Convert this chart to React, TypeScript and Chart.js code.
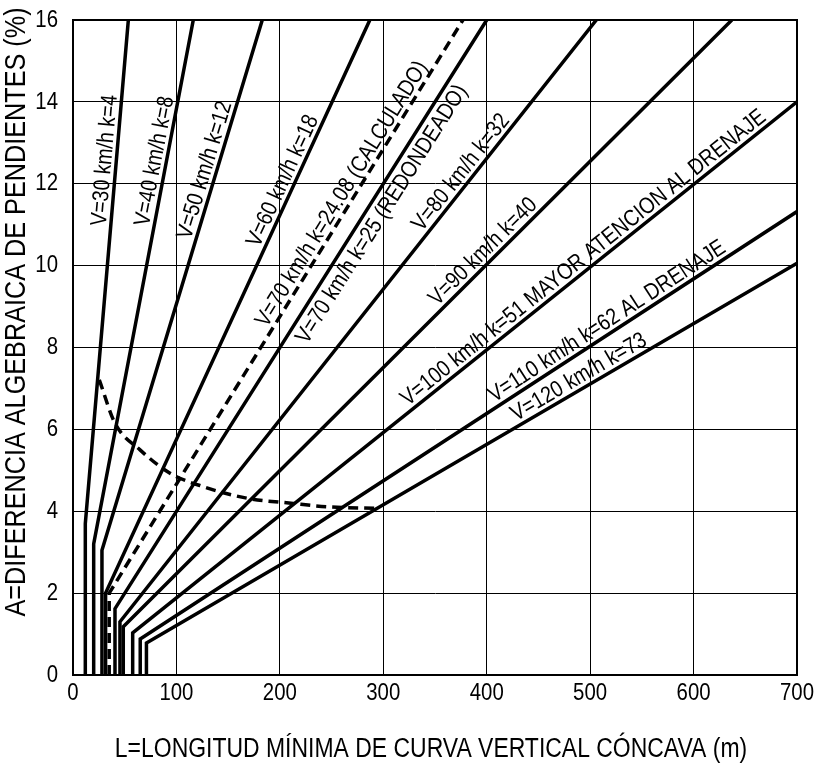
import React, { useEffect, useRef } from 'react';
import { Chart, registerables } from 'chart.js';

Chart.register(...registerables);

const FONT = "'Liberation Sans', Arial, sans-serif";

// Axes
const xMin = 0;
const xMax = 700;
const xStep = 100;
const yMin = 0;
const yMax = 16;
const yStep = 2;
const xTickLabels = ['0', '100', '200', '300', '400', '500', '600', '700'];
const yTickLabels = ['0', '2', '4', '6', '8', '10', '12', '14', '16'];
const xTitle = 'L=LONGITUD MÍNIMA DE CURVA VERTICAL CÓNCAVA (m)';
const yTitle = 'A=DIFERENCIA ALGEBRAICA DE PENDIENTES (%)';

// Design-speed lines: vertical minimum length, then L = K·A up to the frame
const lineLabels = [
  'V=30 km/h k=4',
  'V=40 km/h k=8',
  'V=50 km/h k=12',
  'V=60 km/h k=18',
  'V=70 km/h k=25 (REDONDEADO)',
  'V=80 km/h k=32',
  'V=90 km/h k=40',
  'V=100 km/h k=51 MAYOR ATENCION AL DRENAJE',
  'V=110 km/h k=62 AL DRENAJE',
  'V=120 km/h k=73',
];
const minLength = [11.9, 20, 28, 31.5, 40.6, 45.4, 48.6, 57.7, 65, 71];
const breakA = [3.7, 3.2, 3.05, 2.0, 1.62, 1.3, 1.18, 1.03, 0.88, 0.78];
const endL = [53.5, 116.3, 183, 287, 400, 506, 637, 700, 700, 700];
const endA = [16, 16, 16, 16, 16, 16, 16, 14, 11.32, 10.06];
const labelA = [12.55, 12.5, 12.25, 11.95, 11.45, 12.1, 10.14, 9.97, 8.4, 7.03];
const labelSide = [-1, -1, -1, -1, 1, -1, -1, -1, -1, -1];

// Calculated K = 24.08 (dashed)
const calcLabel = 'V=70 km/h k=24.08 (CALCULADO)';
const calcMinLength = 35;
const calcBreakA = 2.0;
const calcEndL = 377;
const calcEndA = 16;
const calcLabelA = 11.6;

// Dashed drainage curve
const curveL = [25.4, 40.6, 64.8, 93.8, 126, 168, 213, 245, 294];
const curveA = [7.21, 6.15, 5.5, 4.93, 4.6, 4.32, 4.19, 4.11, 4.07];

const W = 819;
const H = 769;
const SX = 0.85; // condensed lettering

function drawText(
  ctx: CanvasRenderingContext2D,
  text: string,
  x: number,
  y: number,
  angle: number,
  size: number,
  align: CanvasTextAlign,
  baseline: CanvasTextBaseline,
  sx: number,
  dy = 0
) {
  ctx.save();
  ctx.translate(x, y);
  ctx.rotate(angle);
  ctx.scale(sx, 1);
  ctx.font = `${size}px ${FONT}`;
  ctx.textAlign = align;
  ctx.textBaseline = baseline;
  ctx.fillStyle = '#000';
  ctx.fillText(text, 0, dy);
  ctx.restore();
}

export default function App() {
  const ref = useRef<HTMLCanvasElement | null>(null);

  useEffect(() => {
    const canvas = ref.current;
    if (!canvas) return;

    const datasets: any[] = [];
    lineLabels.forEach((lab, i) => {
      datasets.push({
        label: lab,
        data: [
          { x: minLength[i], y: 0 },
          { x: minLength[i], y: breakA[i] },
          { x: endL[i], y: endA[i] },
        ],
        showLine: true,
        borderColor: '#000',
        borderWidth: 3.5,
        pointRadius: 0,
        fill: false,
        tension: 0,
        textA: labelA[i],
        textSide: labelSide[i],
      });
    });
    datasets.push({
      label: calcLabel,
      data: [
        { x: calcMinLength, y: 0 },
        { x: calcMinLength, y: calcBreakA },
        { x: calcEndL, y: calcEndA },
      ],
      showLine: true,
      borderColor: '#000',
      borderWidth: 3.5,
      borderDash: [10, 6],
      pointRadius: 0,
      fill: false,
      tension: 0,
      textA: calcLabelA,
      textSide: -1,
    });
    datasets.push({
      label: 'curva',
      data: curveL.map((l, i) => ({ x: l, y: curveA[i] })),
      showLine: true,
      borderColor: '#000',
      borderWidth: 3.5,
      borderDash: [10, 6],
      pointRadius: 0,
      fill: false,
      cubicInterpolationMode: 'monotone',
    });

    const textPlugin = {
      id: 'textLayer',
      afterDatasetsDraw(chart: any) {
        const { ctx, scales, chartArea } = chart;
        const xs = scales.x;
        const ys = scales.y;
        ctx.save();
        // frame
        ctx.strokeStyle = '#000';
        ctx.lineWidth = 2;
        ctx.strokeRect(chartArea.left, chartArea.top, chartArea.right - chartArea.left, chartArea.bottom - chartArea.top);
        ctx.restore();

        // line labels
        const LSIZE = 23;
        chart.data.datasets.forEach((ds: any) => {
          if (ds.textA === undefined) return;
          const p1 = ds.data[1];
          const p2 = ds.data[2];
          const t = (ds.textA - p1.y) / (p2.y - p1.y);
          const L = p1.x + t * (p2.x - p1.x);
          const px = xs.getPixelForValue(L);
          const py = ys.getPixelForValue(ds.textA);
          const ang = Math.atan2(
            ys.getPixelForValue(p2.y) - ys.getPixelForValue(p1.y),
            xs.getPixelForValue(p2.x) - xs.getPixelForValue(p1.x)
          );
          const dy = ds.textSide < 0 ? -5 : 5 + LSIZE * 0.72;
          drawText(ctx, ds.label, px, py, ang, LSIZE, 'center', 'alphabetic', SX, dy);
        });

        // tick labels
        xTickLabels.forEach((s) => {
          drawText(ctx, s, xs.getPixelForValue(Number(s)), 693, 0, 24, 'center', 'middle', SX);
        });
        yTickLabels.forEach((s) => {
          drawText(ctx, s, 58, ys.getPixelForValue(Number(s)), 0, 24, 'right', 'middle', SX);
        });

        // axis titles
        drawText(ctx, xTitle, 431, 750, 0, 27, 'center', 'middle', 0.85);
        drawText(ctx, yTitle, 17, 312, -Math.PI / 2, 29, 'center', 'middle', 0.87);
      },
    };

    const chart = new Chart(canvas, {
      type: 'scatter',
      data: { datasets },
      options: {
        animation: false,
        responsive: false,
        devicePixelRatio: 1,
        layout: { padding: { top: 20, right: 22, left: 0, bottom: 0 } },
        plugins: {
          legend: { display: false },
          tooltip: { enabled: false },
        },
        scales: {
          x: {
            type: 'linear',
            min: xMin,
            max: xMax,
            ticks: { stepSize: xStep, display: false },
            grid: { color: '#000', lineWidth: 1, drawTicks: false },
            border: { display: true, color: '#000', width: 2 },
            title: { display: false, text: xTitle },
            afterFit(scale: any) {
              scale.height = 94;
            },
          },
          y: {
            type: 'linear',
            min: yMin,
            max: yMax,
            ticks: { stepSize: yStep, display: false },
            grid: { color: '#000', lineWidth: 1, drawTicks: false },
            border: { display: true, color: '#000', width: 2 },
            title: { display: false, text: yTitle },
            afterFit(scale: any) {
              scale.width = 73;
            },
          },
        },
      },
      plugins: [textPlugin],
    } as any);

    return () => chart.destroy();
  }, []);

  return (
    <div style={{ position: 'fixed', left: 0, top: 0, width: W, height: H, background: '#fff' }}>
      <canvas ref={ref} width={W} height={H} style={{ width: W, height: H, display: 'block' }} />
    </div>
  );
}
